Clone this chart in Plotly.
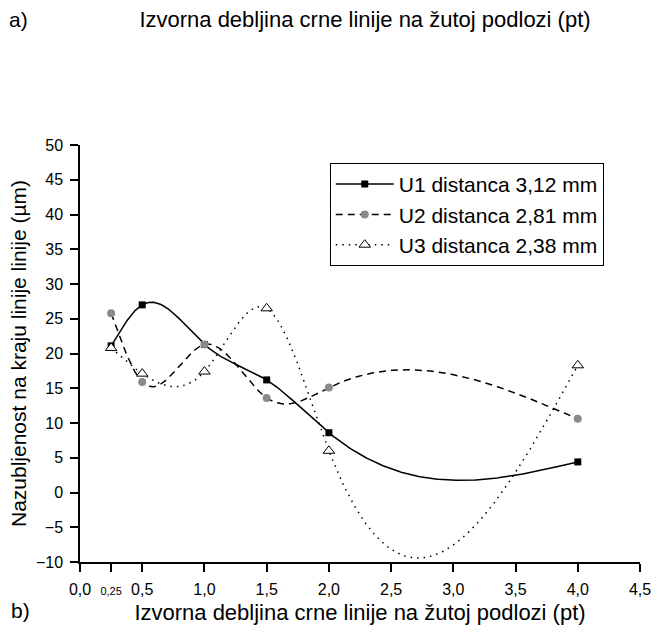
import numpy as np
import plotly.graph_objects as go

# Measured data
thickness = [0.25, 0.5, 1.0, 1.5, 2.0, 4.0]
u1 = [21.1, 27.0, 21.3, 16.2, 8.6, 4.4]
u2 = [25.8, 15.9, 21.3, 13.6, 15.1, 10.6]
u3 = [20.8, 17.1, 17.4, 26.5, 6.0, 18.3]

series_names = ["U1 distanca 3,12 mm", "U2 distanca 2,81 mm", "U3 distanca 2,38 mm"]
x_tickvals = [0.0, 0.25, 0.5, 1.0, 1.5, 2.0, 2.5, 3.0, 3.5, 4.0, 4.5]
x_ticktext = ["0,0", '<span style="font-size:11px">0,25</span>', "0,5", "1,0", "1,5",
              "2,0", "2,5", "3,0", "3,5", "4,0", "4,5"]
y_tickvals = list(range(-10, 55, 5))

FONT = "Arial, Liberation Sans, sans-serif"


def natural_spline(xs, ys, n=400):
    """Natural cubic spline through the points, sampled densely for drawing."""
    x = np.asarray(xs, float)
    y = np.asarray(ys, float)
    k = len(x)
    h = np.diff(x)
    A = np.zeros((k, k))
    b = np.zeros(k)
    A[0, 0] = A[-1, -1] = 1.0
    for i in range(1, k - 1):
        A[i, i - 1] = h[i - 1]
        A[i, i] = 2 * (h[i - 1] + h[i])
        A[i, i + 1] = h[i]
        b[i] = 6 * ((y[i + 1] - y[i]) / h[i] - (y[i] - y[i - 1]) / h[i - 1])
    m = np.linalg.solve(A, b)
    xx = np.linspace(x[0], x[-1], n)
    idx = np.clip(np.searchsorted(x, xx) - 1, 0, k - 2)
    x0, x1 = x[idx], x[idx + 1]
    hh = x1 - x0
    t0, t1 = x1 - xx, xx - x0
    yy = (m[idx] * t0 ** 3 + m[idx + 1] * t1 ** 3) / (6 * hh) \
        + (y[idx] / hh - m[idx] * hh / 6) * t0 \
        + (y[idx + 1] / hh - m[idx + 1] * hh / 6) * t1
    return xx, yy


styles = [
    dict(dash="solid", width=1.5, symbol="square", size=7, color="black",
         mline=dict(color="black", width=0)),
    dict(dash="7px,5px", width=1.5, symbol="circle", size=8, color="#8a8a8a",
         mline=dict(color="#8a8a8a", width=0)),
    dict(dash="1.5px,5px", width=1.5, symbol="triangle-up", size=10, color="white",
         mline=dict(color="black", width=1)),
]

fig = go.Figure()
for name, ys, st in zip(series_names, [u1, u2, u3], styles):
    xx, yy = natural_spline(thickness, ys)
    # smooth connecting curve
    fig.add_trace(go.Scatter(
        x=xx, y=yy, mode="lines", showlegend=False, hoverinfo="skip",
        line=dict(color="black", width=st["width"], dash=st["dash"]),
    ))
    # measured points
    fig.add_trace(go.Scatter(
        x=thickness, y=ys, mode="markers", name=name, showlegend=False,
        marker=dict(symbol=st["symbol"], size=st["size"], color=st["color"],
                    line=st["mline"]),
    ))

# legend entries: styled line with the series marker in the middle
for name, st in zip(series_names, styles):
    fig.add_trace(go.Scatter(
        x=[None], y=[None], mode="lines+markers", name=name,
        line=dict(color="black", width=st["width"], dash=st["dash"]),
        marker=dict(symbol=st["symbol"], size=st["size"], color=st["color"],
                    line=st["mline"]),
    ))

fig.update_layout(
    width=663, height=633,
    margin=dict(l=80, r=18, t=145, b=70),
    paper_bgcolor="white", plot_bgcolor="white",
    font=dict(family=FONT, size=16, color="black"),
    title=dict(text="Izvorna debljina crne linije na žutoj podlozi (pt)",
               x=365 / 663, xref="container", xanchor="center",
               y=1 - 19 / 633, yref="container", yanchor="middle",
               font=dict(size=22, family=FONT)),
    legend=dict(
        x=0.446, y=0.957, xanchor="left", yanchor="top",
        bordercolor="black", borderwidth=1, bgcolor="white",
        font=dict(size=21, family=FONT), itemwidth=58,
        tracegroupgap=0,
    ),
    xaxis=dict(
        range=[0, 4.5], tickvals=x_tickvals, ticktext=x_ticktext,
        showgrid=False, zeroline=False, showline=True, linecolor="black",
        linewidth=1.5, ticks="outside", ticklen=8, tickwidth=1.5, tickcolor="black",
        ticklabelstandoff=4,
        title=dict(text="Izvorna debljina crne linije na žutoj podlozi (pt)",
                   font=dict(size=22), standoff=8),
    ),
    yaxis=dict(
        range=[-10, 50], tickvals=y_tickvals,
        showgrid=False, zeroline=False, showline=True, linecolor="black",
        linewidth=1.5, ticks="outside", ticklen=8, tickwidth=1.5, tickcolor="black",
        ticklabelstandoff=4,
        title=dict(text="Nazubljenost na kraju linije linije (µm)",
                   font=dict(size=21), standoff=4),
    ),
    annotations=[
        dict(text="a)", xref="paper", yref="paper", x=(6 - 80) / 565,
             y=(563 - 19) / 418, xanchor="left", yanchor="middle",
             showarrow=False, font=dict(size=21)),
        dict(text="b)", xref="paper", yref="paper", x=(8 - 80) / 565,
             y=(563 - 612) / 418, xanchor="left", yanchor="middle",
             showarrow=False, font=dict(size=21)),
    ],
)

fig.write_html("out.html")
